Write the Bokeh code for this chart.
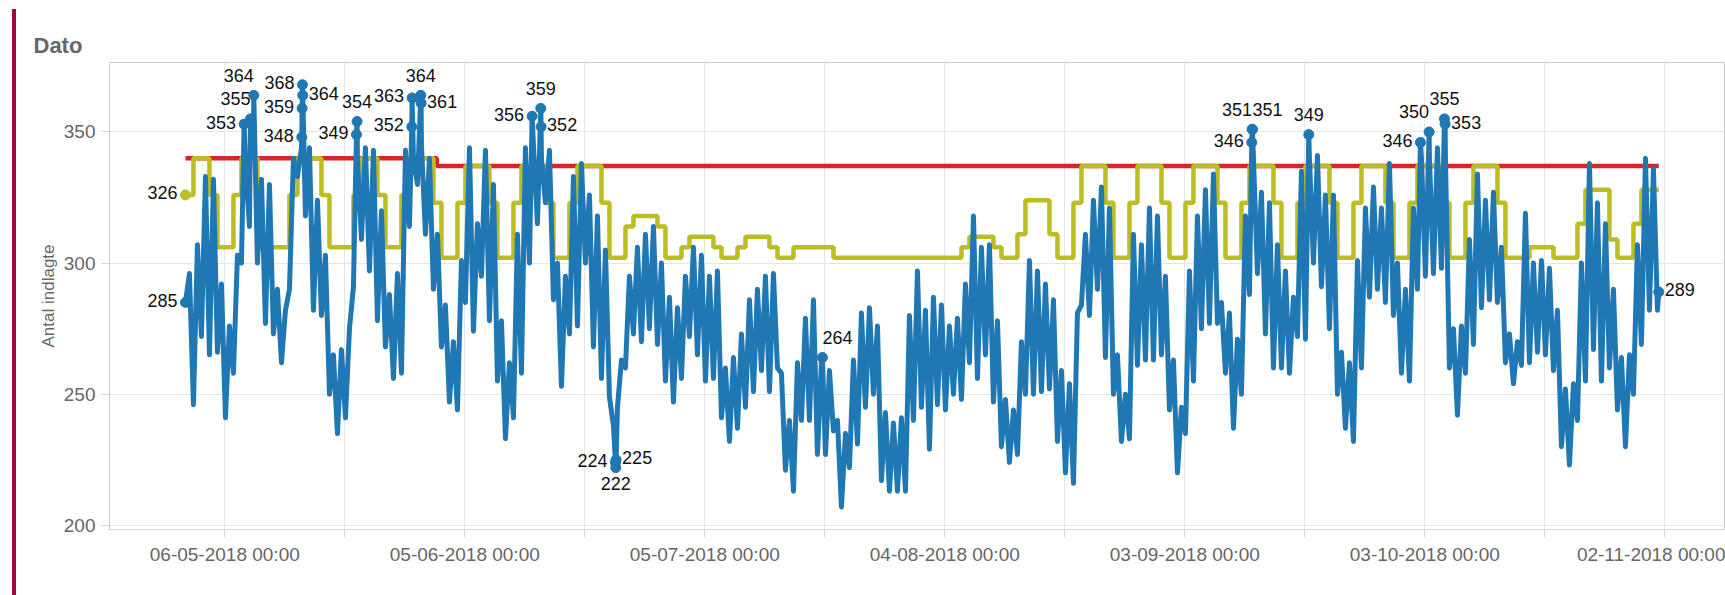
import numpy as np
import pandas as pd
from bokeh.plotting import figure
from bokeh.models import Range1d, FixedTicker, Div, CustomJSTickFormatter
from bokeh.layouts import row
from bokeh.embed import file_html
from bokeh.resources import INLINE
from bokeh.core.properties import value

# ---------------- data ----------------
series_start = "2018-05-01 02:00"

# occupancy read at night (02:00) for each day, 01-05 .. 01-11
night = [285, 246, 272, 265, 266, 241, 258, 300, 314, 300, 277, 273, 262, 290, 333, 318,
         282, 280, 250, 235, 241, 291, 309, 297, 278, 268, 256, 258, 314, 330, 311, 290,
         268, 247, 244, 285, 274, 295, 278, 255, 233, 241, 258, 300, 315, 323, 286, 253,
         273, 276, 300, 268, 256, 249, 245, 260, 273, 270, 275, 269, 255, 247, 256, 272,
         265, 255, 256, 241, 232, 237, 245, 251, 259, 251, 260, 221, 213, 240, 240, 227,
         227, 236, 207, 222, 231, 245, 250, 217, 213, 213, 213, 240, 245, 229, 246, 244,
         250, 248, 262, 256, 265, 247, 230, 224, 227, 250, 250, 251, 252, 232, 220, 216,
         284, 280, 290, 264, 250, 232, 233, 261, 263, 263, 265, 244, 220, 235, 255, 275,
         277, 277, 258, 237, 250, 288, 296, 273, 260, 260, 258, 272, 271, 300, 291, 275,
         250, 237, 232, 260, 287, 290, 285, 280, 258, 255, 290, 295, 296, 298, 260, 242,
         258, 269, 283, 286, 285, 262, 254, 261, 262, 266, 265, 259, 230, 223, 240, 255,
         267, 255, 260, 244, 230, 250, 269, 282, 282]

# occupancy read in the afternoon (14:00) for each day, 01-05 .. 31-10
noon = [296, 307, 333, 332, 292, 276, 303, 338, 345, 332, 330, 290, 282, 340, 344, 344,
        324, 303, 265, 267, 275, 340, 344, 343, 320, 288, 296, 343, 340, 345, 340, 311,
        284, 270, 301, 344, 315, 343, 330, 278, 262, 311, 344, 345, 340, 343, 300, 295,
        333, 338, 326, 318, 305, 238, 263, 295, 306, 311, 314, 300, 287, 283, 295, 306,
        303, 295, 297, 260, 264, 273, 286, 290, 295, 296, 258, 240, 262, 279, 286, 262,
        259, 240, 235, 263, 281, 283, 276, 243, 239, 241, 280, 297, 282, 287, 284, 276,
        279, 292, 318, 306, 307, 278, 248, 244, 270, 301, 297, 292, 286, 259, 254, 281,
        311, 324, 329, 321, 265, 250, 311, 307, 321, 318, 295, 263, 245, 297, 318, 328,
        334, 285, 281, 271, 318, 340, 327, 323, 307, 297, 287, 335, 340, 341, 326, 326,
        266, 262, 301, 321, 329, 321, 338, 300, 290, 321, 340, 340, 344, 340, 275, 276,
        309, 334, 324, 327, 306, 273, 270, 319, 300, 301, 298, 282, 252, 254, 300, 338,
        323, 315, 290, 264, 265, 307, 340, 336]

# marked readings (extremes) with their time stamps
marked_times = ["2018-05-08 10:00", "2018-05-09 05:00", "2018-05-09 15:00",
                "2018-05-15 15:00", "2018-05-15 16:00", "2018-05-15 17:00", "2018-05-15 18:00",
                "2018-05-22 11:00", "2018-05-22 13:00",
                "2018-05-29 09:00", "2018-05-29 10:00",
                "2018-05-30 12:00", "2018-05-30 13:00",
                "2018-06-13 10:00", "2018-06-14 12:00", "2018-06-14 13:00",
                "2018-06-23 20:00", "2018-06-23 21:00", "2018-06-23 22:00",
                "2018-07-19 17:00",
                "2018-09-11 09:00", "2018-09-11 10:00", "2018-09-11 11:00",
                "2018-09-18 12:00",
                "2018-10-02 11:00", "2018-10-03 13:00",
                "2018-10-05 11:00", "2018-10-05 13:00",
                "2018-11-01 06:00"]
marked_values = [353, 355, 364,
                 348, 359, 368, 364,
                 349, 354,
                 352, 363,
                 364, 361,
                 356, 359, 352,
                 224, 222, 225,
                 264,
                 346, 351, 351,
                 349,
                 346, 350,
                 355, 353,
                 289]

# planned beds per day (step line), 01-05 .. 01-11
plan = [326, 340, 340, 326, 306, 306,
        326, 340, 340, 306, 306, 306, 306,
        326, 340, 340, 340, 326, 306, 306,
        306, 326, 340, 340, 326, 306, 306,
        326, 340, 340, 340, 323, 302, 302,
        323, 337, 337, 337, 323, 302, 302,
        323, 337, 337, 337, 323, 302, 302,
        323, 337, 337, 337, 323, 302, 302,
        314, 318, 318, 318, 314, 302, 302,
        306, 310, 310, 310, 306, 302, 302,
        306, 310, 310, 310, 306, 302, 302,
        306, 306, 306, 306, 306, 302, 302,
        302, 302, 302, 302, 302, 302, 302,
        302, 302, 302, 302, 302, 302, 302,
        306, 310, 310, 310, 306, 302, 302,
        311, 324, 324, 324, 311, 302, 302,
        323, 337, 337, 337, 323, 302, 302,
        323, 337, 337, 337, 323, 302, 302,
        323, 337, 337, 337, 323, 302, 302,
        323, 337, 337, 337, 323, 302, 302,
        323, 337, 337, 337, 323, 302, 302,
        323, 337, 337, 337, 323, 302, 302,
        323, 337, 337, 337, 323, 302, 302,
        323, 337, 337, 337, 323, 302, 302,
        302, 306, 306, 306, 302, 302, 302,
        315, 328, 328, 328, 309, 302, 302,
        315, 328, 328, 328]

# capacity (red step line)
capacity_times = ["2018-05-01 02:00", "2018-06-01 12:00", "2018-11-01 06:00"]
capacity_values = [340, 337, 337]

tick_dates = ["2018-05-06", "2018-05-21", "2018-06-05", "2018-06-20", "2018-07-05",
              "2018-07-20", "2018-08-04", "2018-08-19", "2018-09-03", "2018-09-18",
              "2018-10-03", "2018-10-18", "2018-11-02", "2018-11-17"]
tick_labels = ["06-05-2018 00:00", "", "05-06-2018 00:00", "", "05-07-2018 00:00", "",
               "04-08-2018 00:00", "", "03-09-2018 00:00", "", "03-10-2018 00:00", "",
               "02-11-2018 00:00", ""]
y_ticks = [200, 250, 300, 350]

# label placement of marked points (style): L=left, R=right, T=above, TL/TR=above left/right, B=below
label_spots = ["L", "TL", "TL",
               "L", "L", "L", "R",
               "L", "T",
               "L", "L",
               "T", "R",
               "L", "T", "R",
               "L", "B", "R",
               "TR",
               "L", "TL", "TR",
               "T",
               "L", "TL",
               "T", "R",
               "R"]

# ---------------- build ----------------
DAY = pd.Timedelta(days=1)
t0 = pd.Timestamp(series_start)
base_t = [t0 + i * DAY for i in range(len(night))] + \
         [t0 + i * DAY + pd.Timedelta(hours=12) for i in range(len(noon))]
base_v = list(night) + list(noon)
m_t = [pd.Timestamp(s) for s in marked_times]
all_t = np.array(base_t + m_t, dtype="datetime64[ns]")
all_v = np.array(base_v + marked_values, dtype=float)
order = np.argsort(all_t, kind="stable")
blue_t, blue_v = all_t[order], all_v[order]

plan_t = [t0 + i * DAY for i in range(len(plan))] + [m_t[-1]]
plan_v = list(plan) + [plan[-1]]
cap_t = [pd.Timestamp(s) for s in capacity_times]

BLUE, RED, OLIVE = "#1f77b4", "#d62728", "#bcbd22"

ref = pd.Timestamp("2018-05-06")
x_start = ref - pd.Timedelta(days=14.41)
x_end = ref + pd.Timedelta(days=187.59)

p = figure(width=1709, height=595, x_axis_type="datetime",
           output_backend="svg", toolbar_location=None,
           x_range=Range1d(x_start, x_end), y_range=Range1d(198.4, 376.5),
           min_border_left=93, min_border_right=0, min_border_top=62, min_border_bottom=66)

p.title.text = "Dato"
p.title.align = "left"
p.title.offset = -76
p.title.text_font = "Liberation Sans"
p.title.text_font_size = "22px"
p.title.text_font_style = "bold"
p.title.text_color = "#666666"

p.step(cap_t, capacity_values, mode="after", line_color=RED, line_width=4.5)
p.step(plan_t, plan_v, mode="after", line_color=OLIVE, line_width=4.5)
p.line(blue_t, blue_v, line_color=BLUE, line_width=5, line_join="round")

# markers
mk_t = [base_t[0]] + m_t
mk_v = [night[0]] + marked_values
mk_s = ["L"] + label_spots
p.scatter(mk_t, mk_v, size=10, color=BLUE)
p.scatter([plan_t[0]], [plan_v[0]], size=10, color=OLIVE)

spot_style = {"L": ("right", -8, -2), "R": ("left", 6, -2), "T": ("center", 0, -20),
              "TL": ("right", 0, -20), "TR": ("left", 0, -20), "B": ("center", 0, 16)}
lab_t = mk_t + [plan_t[0]]
lab_v = mk_v + [plan_v[0]]
lab_s = mk_s + ["L"]
for align in ("left", "right", "center"):
    xs, ys, txt, xo, yo = [], [], [], [], []
    for t, v, s in zip(lab_t, lab_v, lab_s):
        a, dx, dy = spot_style[s]
        if a != align:
            continue
        xs.append(t); ys.append(v); txt.append(str(int(v))); xo.append(dx); yo.append(dy)
    if xs:
        p.text(x=xs, y=ys, text=txt, x_offset=xo, y_offset=yo, text_align=align,
               text_baseline="middle", text_font=value("Liberation Sans"),
               text_font_size="18px", text_color="#111111")

# axes
tick_ms = [pd.Timestamp(d).value / 1e6 for d in tick_dates]
p.xaxis.ticker = FixedTicker(ticks=tick_ms)
p.xaxis.formatter = CustomJSTickFormatter(args=dict(tk=tick_ms, lb=tick_labels), code="""
    for (let i = 0; i < tk.length; i++) {
        if (Math.abs(tk[i] - tick) < 1000) { return lb[i]; }
    }
    return "";
""")
p.yaxis.ticker = FixedTicker(ticks=y_ticks)
for ax in (p.xaxis, p.yaxis):
    ax.minor_tick_line_color = None
    ax.major_tick_in = 0
    ax.major_tick_out = 8
    ax.major_label_standoff = 6
    ax.axis_line_color = "#ccd6eb"
    ax.major_tick_line_color = "#ccd6eb"
    ax.major_label_text_font = "Liberation Sans"
    ax.major_label_text_font_size = "19px"
    ax.major_label_text_color = "#666666"
p.yaxis.axis_line_color = "#cccccc"
p.yaxis.axis_label = "Antal indlagte"
p.yaxis.axis_label_text_font = "Liberation Sans"
p.yaxis.axis_label_text_font_size = "17px"
p.yaxis.axis_label_text_font_style = "normal"
p.yaxis.axis_label_text_color = "#666666"
p.yaxis.axis_label_standoff = 3

p.xgrid.grid_line_color = "#e6e6e6"
p.ygrid.grid_line_color = "#e6e6e6"
p.outline_line_color = "#cccccc"
p.background_fill_color = "white"
p.border_fill_color = "white"

bar = Div(text="", width=4, height=586, margin=(9, 0, 0, 12),
          styles={"background-color": "#9b0b3b"})
layout = row(bar, p)

open("out.html", "w").write(file_html(layout, INLINE))
